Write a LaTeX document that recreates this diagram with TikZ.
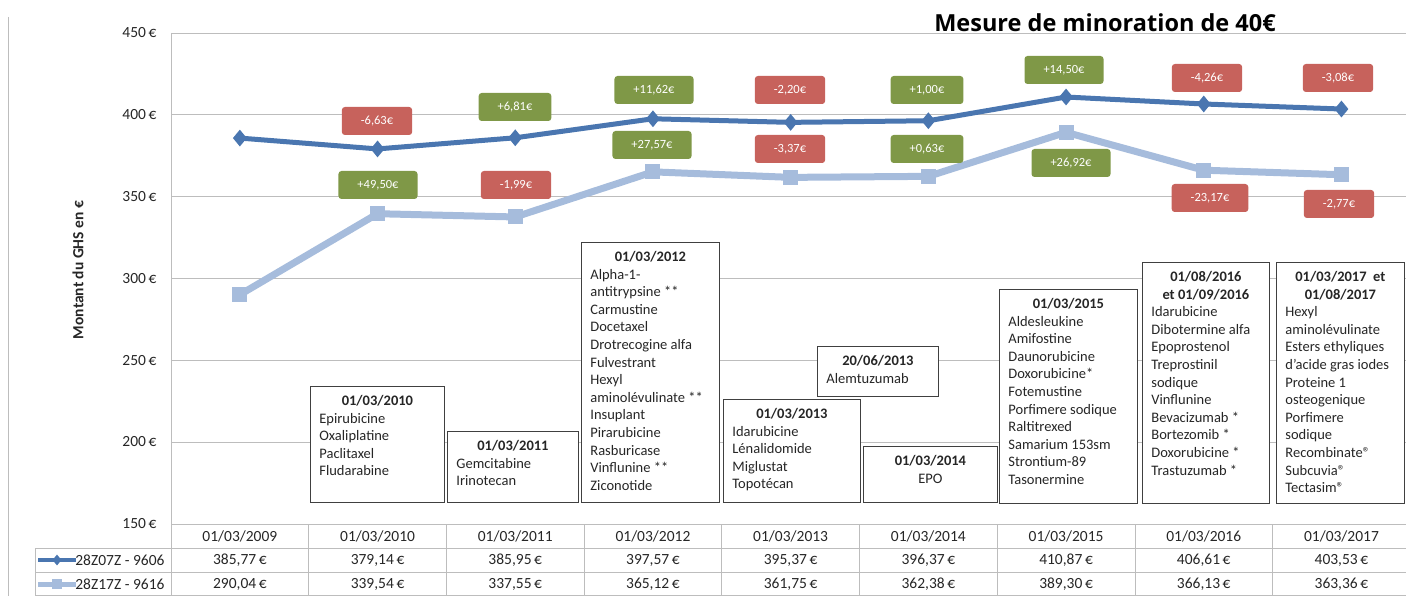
\documentclass[tikz,border=0pt]{standalone}
\usepackage{fontspec}
\setmainfont{Carlito}
\newfontfamily\titlefont{Open Sans}
\usetikzlibrary{shapes.geometric}

\definecolor{serdark}{HTML}{4A76B0}
\definecolor{serlight}{HTML}{A6BCDC}
\definecolor{upgreen}{HTML}{7F9847}
\definecolor{downred}{HTML}{C7625C}
\definecolor{gridgray}{HTML}{BDBDBD}

\begin{document}
\begin{tikzpicture}[x=1pt, y=-1pt,
  every node/.style={text=black!85, font=\fontsize{15.5}{18}\selectfont},
  grid/.style={draw=gridgray, line width=0.8pt},
  up/.style={fill=upgreen, rounded corners=3pt, text=white, inner xsep=19pt, inner ysep=0pt,
    minimum width=66pt, minimum height=28pt, font=\fontsize{12.5}{14}\selectfont},
  down/.style={up, fill=downred},
  medbox/.style={draw=black!75, line width=0.8pt, fill=white, anchor=north west,
    inner xsep=9pt, inner ysep=9pt, font=\fontsize{14.5}{17.6}\selectfont},
  dmark/.style={diamond, fill=serdark, inner sep=0pt, minimum width=14pt, minimum height=17pt},
  smark/.style={rectangle, fill=serlight, inner sep=0pt, minimum size=15pt}]
\useasboundingbox (0,0) rectangle (1406,596);

% frame, grid and table lines
\draw[grid] (8,17) -- (8,596);
\foreach \v in {450,400,...,200}
  \draw[grid] (171,{33+(450-\v)*1.636}) -- (1406,{33+(450-\v)*1.636});
\foreach \v in {450,400,...,150}
  \node[anchor=east] (t\v) at (160,{33+(450-\v)*1.636}) {\v\,€};
\draw[grid] (171,33) -- (171,596);
\draw[grid] (171,524) -- (1406,524);
\draw[grid] (35,548) -- (1406,548);
\draw[grid] (35,572) -- (1406,572);
\draw[grid] (35,595.5) -- (1406,595.5);
\draw[grid] (35,548) -- (35,596);
\foreach \i in {1,...,8}
  \draw[grid] ({171+137.7*\i},524) -- ({171+137.7*\i},596);

\node[rotate=90, font=\fontsize{15.5}{18}\selectfont\bfseries] (ylab) at (78,270) {Montant du GHS en €};
\node[font=\titlefont\fontsize{23.5}{28}\selectfont\bfseries, text=black, anchor=base] (titre) at (1105,32) {Mesure de minoration de 40€};

% boites des molecules
\node[medbox] (b2010) at (310,386) {\parbox[t][98pt][t]{116pt}{\centering\bfseries 01/03/2010\par\raggedright\mdseries
  Epirubicine\\Oxaliplatine\\Paclitaxel\\Fludarabine}};
\node[medbox] (b2011) at (447,431) {\parbox[t][53pt][t]{113pt}{\centering\bfseries 01/03/2011\par\raggedright\mdseries
  Gemcitabine\\Irinotecan}};
\node[medbox] (b2012) at (581,242) {\parbox[t][242pt][t]{120pt}{\centering\bfseries 01/03/2012\par\raggedright\mdseries
  Alpha-1-\\antitrypsine **\\Carmustine\\Docetaxel\\Drotrecogine alfa\\Fulvestrant\\Hexyl\\aminolévulinate **\\
  Insuplant\\Pirarubicine\\Rasburicase\\Vinflunine **\\Ziconotide}};
\node[medbox] (b2013) at (723,399) {\parbox[t][85pt][t]{119pt}{\centering\bfseries 01/03/2013\par\raggedright\mdseries
  Idarubicine\\Lénalidomide\\Miglustat\\Topotécan}};
\node[medbox] (b2013b) at (817,346) {\parbox[t][32pt][t]{103pt}{\centering\bfseries 20/06/2013\par\raggedright\mdseries
  Alemtuzumab}};
\node[medbox] (b2014) at (863,446) {\parbox[t][38pt][t]{116pt}{\centering\bfseries 01/03/2014\par\mdseries
  EPO}};
\node[medbox] (b2015) at (999,289) {\parbox[t][196pt][t]{120pt}{\centering\bfseries 01/03/2015\par\raggedright\mdseries
  Aldesleukine\\Amifostine\\Daunorubicine\\Doxorubicine*\\Fotemustine\\Porfimere sodique\\Raltitrexed\\
  Samarium 153sm\\Strontium-89\\Tasonermine}};
\node[medbox] (b2016) at (1142,262) {\parbox[t][223pt][t]{109pt}{\centering\bfseries 01/08/2016\\et 01/09/2016\par\raggedright\mdseries
  Idarubicine\\Dibotermine alfa\\Epoprostenol\\Treprostinil\\sodique\\Vinflunine\\Bevacizumab *\\
  Bortezomib *\\Doxorubicine *\\Trastuzumab *}};
\node[medbox] (b2017) at (1276,262) {\parbox[t][223pt][t]{110pt}{\centering\bfseries 01/03/2017~ et\\01/08/2017\par\raggedright\mdseries
  Hexyl\\aminolévulinate\\Esters ethyliques\\d'acide gras iodes\\Proteine 1\\osteogenique\\Porfimere\\
  sodique\\Recombinate®\\Subcuvia®\\Tectasim®}};

% series
\foreach \v [count=\i] in {385.77,379.14,385.95,397.57,395.37,396.37,410.87,406.61,403.53}
  \coordinate (d\i) at ({171+137.7*(\i-0.5)},{33+(450-\v)*1.636});
\foreach \v [count=\i] in {290.04,339.54,337.55,365.12,361.75,362.38,389.30,366.13,363.36}
  \coordinate (l\i) at ({171+137.7*(\i-0.5)},{33+(450-\v)*1.636});
\draw[serlight, line width=7pt, line join=round] (l1) \foreach \i in {2,...,9} {-- (l\i)};
\draw[serdark, line width=5pt, line join=round] (d1) \foreach \i in {2,...,9} {-- (d\i)};
\foreach \i in {1,...,9} {
  \node[dmark] (dm\i) at (d\i) {};
  \node[smark] (lm\i) at (l\i) {};
}

% variations
\node[down] (vd2) at (377,121) {-6,63€};
\node[up] (vd3) at (515,107) {+6,81€};
\node[up] (vd4) at (654,90) {+11,62€};
\node[down] (vd5) at (790,90) {-2,20€};
\node[up] (vd6) at (927,90) {+1,00€};
\node[up] (vd7) at (1064,70) {+14,50€};
\node[down] (vd8) at (1207,78) {-4,26€};
\node[down] (vd9) at (1338,78) {-3,08€};
\node[up] (vl2) at (378,185) {+49,50€};
\node[down] (vl3) at (516,185) {-1,99€};
\node[up] (vl4) at (652,145) {+27,57€};
\node[down] (vl5) at (790,149) {-3,37€};
\node[up] (vl6) at (927,149) {+0,63€};
\node[up] (vl7) at (1071,163) {+26,92€};
\node[down] (vl8) at (1210,198) {-23,17€};
\node[down] (vl9) at (1339,204) {-2,77€};

% tableau
\foreach \d [count=\i] in {2009,...,2017}
  \node (c\i) at ({171+137.7*(\i-0.5)},536) {01/03/\d};
\foreach \v [count=\i] in {{385,77},{379,14},{385,95},{397,57},{395,37},{396,37},{410,87},{406,61},{403,53}}
  \node (td\i) at ({171+137.7*(\i-0.5)},560) {\v\,€};
\foreach \v [count=\i] in {{290,04},{339,54},{337,55},{365,12},{361,75},{362,38},{389,30},{366,13},{363,36}}
  \node (tl\i) at ({171+137.7*(\i-0.5)},584) {\v\,€};
\coordinate (ga) at (38,560);
\coordinate (gb) at (76,560);
\coordinate (gc) at (38,584);
\coordinate (gd) at (76,584);
\draw[serdark, line width=4pt] (ga) -- (gb);
\draw[serlight, line width=5pt] (gc) -- (gd);
\node[dmark, minimum width=9pt, minimum height=11pt] (gdm) at (57,560) {};
\node[smark, minimum size=10pt] (glm) at (57,584) {};
\node[anchor=east] (leg1) at (168,560) {28Z07Z - 9606};
\node[anchor=east] (leg2) at (168,584) {28Z17Z - 9616};
\end{tikzpicture}
\end{document}
